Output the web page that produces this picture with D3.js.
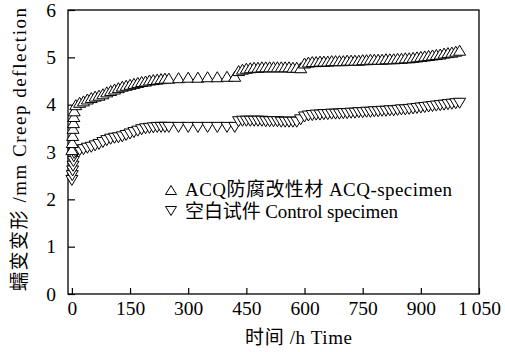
<!DOCTYPE html>
<html>
<head>
<meta charset="utf-8">
<script src="https://cdn.jsdelivr.net/npm/d3@7"></script>
<style>
  html, body { margin: 0; padding: 0; background: #fff; }
  svg { display: block; }
  text { font-family: "Liberation Serif", "Noto Sans CJK SC", serif; fill: #000; }
</style>
</head>
<body>
<svg id="chart" width="505" height="352"></svg>
<script>
// ---- data ----
const xTicks = [0, 150, 300, 450, 600, 750, 900, 1050];
const xTickLabels = ["0", "150", "300", "450", "600", "750", "900", "1\u2009050"];
const yTicks = [0, 1, 2, 3, 4, 5, 6];

const acqTime = [0,1,2,3,4,5,6,
  10,20,30,40,50,60,70,80,90,100,110,120,130,140,150,160,170,180,190,200,210,220,230,240,250,
  275,300,325,350,375,400,420,
  430,440,450,460,470,480,490,500,510,520,530,540,550,560,570,580,590,
  600,610,620,630,640,650,660,670,680,690,700,710,720,730,740,750,760,770,780,790,800,
  810,820,830,840,850,860,870,880,890,900,910,920,930,940,950,960,970,980,990,1000];
const acqValue = [3.05,3.2,3.35,3.5,3.62,3.75,3.87,
  4.0,4.05,4.08,4.12,4.15,4.18,4.2,4.23,4.27,4.3,4.33,4.36,4.39,4.41,4.43,4.45,4.47,4.49,4.5,4.52,4.53,4.54,4.55,4.56,4.56,
  4.57,4.58,4.58,4.59,4.59,4.6,4.6,
  4.72,4.75,4.77,4.78,4.79,4.79,4.8,4.8,4.8,4.8,4.8,4.8,4.8,4.8,4.79,4.79,4.78,
  4.88,4.9,4.91,4.91,4.92,4.92,4.92,4.93,4.93,4.93,4.93,4.94,4.94,4.94,4.94,4.95,4.95,4.96,4.96,4.96,4.96,
  4.97,4.97,4.97,4.98,4.98,4.99,4.99,5.0,5.01,5.02,5.03,5.04,5.05,5.06,5.07,5.09,5.1,5.11,5.13,5.15];

const ctrlTime = [0,1,2,3,4,5,6,
  10,20,30,40,50,60,70,80,90,100,110,120,130,140,150,160,170,180,190,200,210,220,230,240,250,
  275,300,325,350,375,400,420,
  430,440,450,460,470,480,490,500,510,520,530,540,550,560,570,580,590,
  600,610,620,630,640,650,660,670,680,690,700,710,720,730,740,750,760,770,780,790,800,
  810,820,830,840,850,860,870,880,890,900,910,920,930,940,950,960,970,980,990,1000];
const ctrlValue = [2.4,2.5,2.6,2.7,2.8,2.9,2.97,
  3.0,3.03,3.05,3.08,3.1,3.13,3.16,3.2,3.24,3.27,3.29,3.3,3.32,3.35,3.38,3.41,3.44,3.47,3.49,3.5,3.51,3.52,3.52,3.52,3.52,
  3.52,3.52,3.52,3.52,3.52,3.52,3.52,
  3.64,3.65,3.65,3.65,3.65,3.65,3.65,3.64,3.64,3.64,3.64,3.63,3.63,3.63,3.63,3.63,3.68,
  3.74,3.76,3.77,3.78,3.78,3.79,3.79,3.8,3.8,3.8,3.81,3.81,3.82,3.82,3.83,3.83,3.84,3.84,3.85,3.85,3.86,
  3.86,3.87,3.87,3.88,3.89,3.89,3.9,3.91,3.92,3.93,3.94,3.95,3.96,3.97,3.98,3.99,4.0,4.01,4.02,4.03];

const legendLabels = ["ACQ防腐改性材 ACQ-specimen", "空白试件 Control specimen"];
const xTitle = "时间 /h Time";
const yTitle = "蠕变变形 /mm Creep deflection";

// ---- layout ----
const svg = d3.select("#chart");
const x = d3.scaleLinear().domain([-10, 1050]).range([68, 479]);
const y = d3.scaleLinear().domain([0, 6]).range([294, 10]);

const triUp = (w, h) => `M0,${-h/2}L${w/2},${h/2}L${-w/2},${h/2}Z`;
const triDown = (w, h) => `M0,${h/2}L${w/2},${-h/2}L${-w/2},${-h/2}Z`;

// axes
const xAxis = d3.axisBottom(x).tickValues(xTicks)
  .tickFormat((d, i) => xTickLabels[i]).tickSizeInner(-6).tickSizeOuter(0).tickPadding(7);
const gx = svg.append("g").attr("transform", `translate(0,${y(0)})`).call(xAxis);
gx.select(".domain").remove();
gx.selectAll("line").attr("stroke", "#000").attr("stroke-width", 1.2);
gx.selectAll("text").attr("font-size", 19.5).attr("font-family", "Liberation Serif");

const yAxis = d3.axisLeft(y).tickValues(yTicks).tickFormat(d3.format("d"))
  .tickSizeInner(-7).tickSizeOuter(0).tickPadding(12);
const gy = svg.append("g").attr("transform", `translate(${x.range()[0]},0)`).call(yAxis);
gy.select(".domain").remove();
gy.selectAll("line").attr("stroke", "#000").attr("stroke-width", 1.2);
gy.selectAll("text").attr("font-size", 19.5).attr("font-family", "Liberation Serif");

// frame
svg.append("rect")
  .attr("x", x.range()[0]).attr("y", y.range()[1])
  .attr("width", x.range()[1] - x.range()[0]).attr("height", y.range()[0] - y.range()[1])
  .attr("fill", "none").attr("stroke", "#000").attr("stroke-width", 1.3);

// series
const acq = acqTime.map((t, i) => ({t, v: acqValue[i]}));
const ctrl = ctrlTime.map((t, i) => ({t, v: ctrlValue[i]}));

svg.append("g").selectAll("path").data(ctrl).join("path")
  .attr("d", triDown(12, 10))
  .attr("transform", d => `translate(${x(d.t)},${y(d.v)})`)
  .attr("fill", "#fff").attr("stroke", "#000").attr("stroke-width", 1);

svg.append("g").selectAll("path").data(acq).join("path")
  .attr("d", triUp(12, 10))
  .attr("transform", d => `translate(${x(d.t)},${y(d.v)})`)
  .attr("fill", "#fff").attr("stroke", "#000").attr("stroke-width", 1);

// legend
const leg = svg.append("g");
leg.append("path").attr("d", triUp(11, 9)).attr("transform", "translate(171,190)")
  .attr("fill", "#fff").attr("stroke", "#000").attr("stroke-width", 1);
leg.append("path").attr("d", triDown(11, 9)).attr("transform", "translate(171,211)")
  .attr("fill", "#fff").attr("stroke", "#000").attr("stroke-width", 1);
leg.append("text").attr("x", 185).attr("y", 196).attr("font-size", 19)
  .attr("textLength", 267).attr("lengthAdjust", "spacing").text(legendLabels[0]);
leg.append("text").attr("x", 185).attr("y", 218).attr("font-size", 19)
  .attr("textLength", 213).attr("lengthAdjust", "spacing").text(legendLabels[1]);

// axis titles
svg.append("text").attr("x", 245).attr("y", 344).attr("font-size", 19)
  .attr("textLength", 107).attr("lengthAdjust", "spacing").text(xTitle);
svg.append("text").attr("transform", "translate(26,291) rotate(-90)")
  .attr("font-size", 19).attr("textLength", 283).attr("lengthAdjust", "spacing").text(yTitle);
</script>
</body>
</html>
